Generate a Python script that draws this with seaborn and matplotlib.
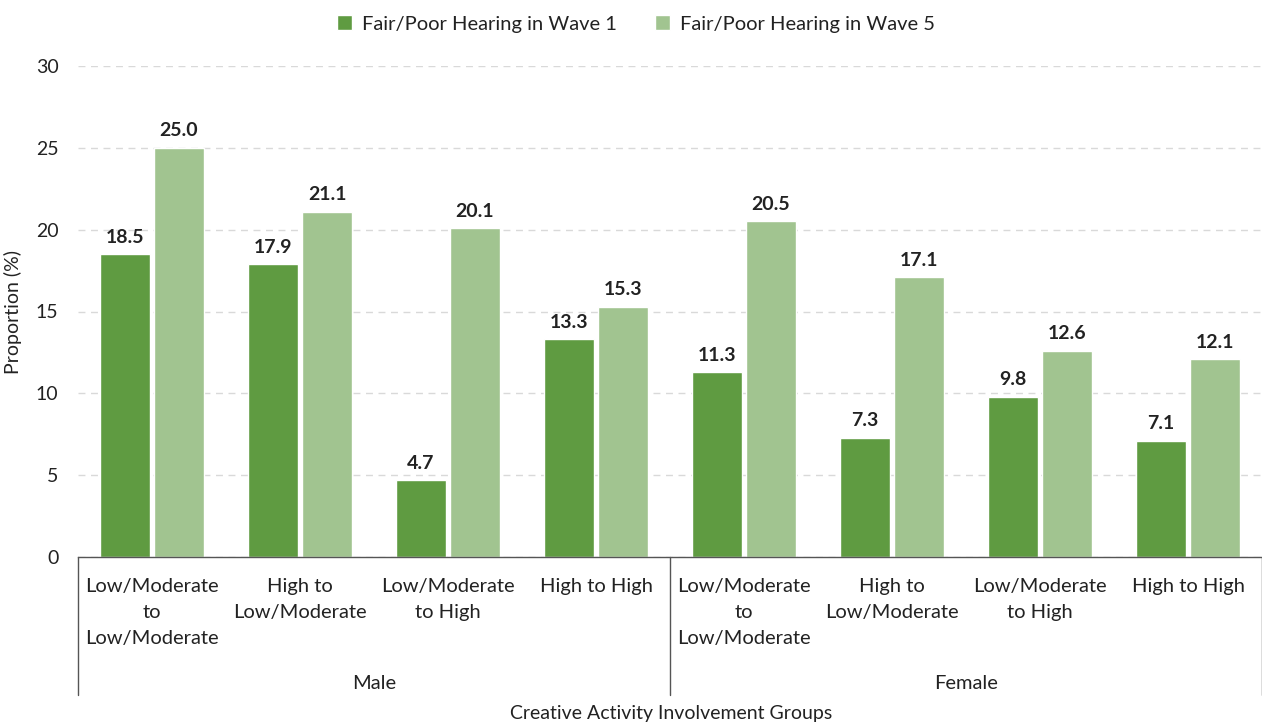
import numpy as np
import pandas as pd
import matplotlib
matplotlib.use("Agg")
import matplotlib.pyplot as plt
import seaborn as sns

# data
sexes = ["Male", "Female"]
groups = ["Low/Moderate\nto\nLow/Moderate", "High to\nLow/Moderate",
          "Low/Moderate\nto High", "High to High"]
series = ["Fair/Poor Hearing in Wave 1", "Fair/Poor Hearing in Wave 5"]
wave1 = [18.5, 17.9, 4.7, 13.3, 11.3, 7.3, 9.8, 7.1]
wave5 = [25.0, 21.1, 20.1, 15.3, 20.5, 17.1, 12.6, 12.1]

keys = [f"{s}|{g}" for s in sexes for g in groups]
df = pd.DataFrame({
    "key": keys * 2,
    "series": [series[0]] * len(keys) + [series[1]] * len(keys),
    "value": wave1 + wave5,
})

sns.set_theme(style="white")
plt.rcParams["font.family"] = ["Lato", "DejaVu Sans"]

fig = plt.figure(figsize=(12.62, 7.24), dpi=100)
ax = fig.add_axes([78 / 1262, 1 - 557 / 724, 1184 / 1262, 491 / 724])

palette = ["#5f9b41", "#a1c490"]
sns.barplot(data=df, x="key", y="value", hue="series", order=keys,
            palette=palette, width=0.73, gap=0.06, saturation=1,
            ax=ax, legend=True)

for cont in ax.containers:
    ax.bar_label(cont, fmt="%.1f", padding=6, fontsize=14,
                 fontweight="bold", color="#222222")

ax.set_ylim(0, 30)
ax.set_xlim(-0.5, len(keys) - 0.5)
ax.set_yticks(range(0, 31, 5))
ax.tick_params(axis="y", labelsize=14, colors="#222222", length=0, pad=14)
ax.tick_params(axis="x", labelsize=14.5, colors="#222222", length=0, pad=15)
ax.set_xticks(range(len(keys)))
ax.set_xticklabels(groups * 2, linespacing=1.65)
ax.yaxis.grid(True, linestyle=(0, (5, 4)), color="#d9d9d9", linewidth=1)
ax.set_axisbelow(True)
for side in ["left", "right", "top"]:
    ax.spines[side].set_visible(False)
ax.spines["bottom"].set_color("#555555")
ax.spines["bottom"].set_linewidth(1)

ax.set_xlabel("")
ax.set_ylabel("Proportion (%)", fontsize=14, color="#222222", labelpad=10)

# group separators and sex labels under the ticks
trans = ax.get_xaxis_transform()
for xpos in [-0.5, 3.5, 7.5]:
    ax.plot([xpos, xpos], [0, -0.281], transform=trans, color="#555555",
            linewidth=1, clip_on=False)
for i, s in enumerate(sexes):
    ax.text(i * 4 + 1.5, -0.257, s, transform=trans, ha="center",
            va="center", fontsize=14.5, color="#222222")

fig.text(671 / 1262, 1 - 713 / 724, "Creative Activity Involvement Groups",
         ha="center", va="center", fontsize=14, color="#222222")

fig.legend(*ax.get_legend_handles_labels(), loc="center",
           bbox_to_anchor=(636 / 1262, 1 - 24 / 724), ncol=2,
           frameon=False, fontsize=14.5, handlelength=0.75, handleheight=0.75,
           handletextpad=0.5, columnspacing=1.9, labelcolor="#222222")
ax.get_legend().remove()

fig.savefig("out.png", dpi=100)
